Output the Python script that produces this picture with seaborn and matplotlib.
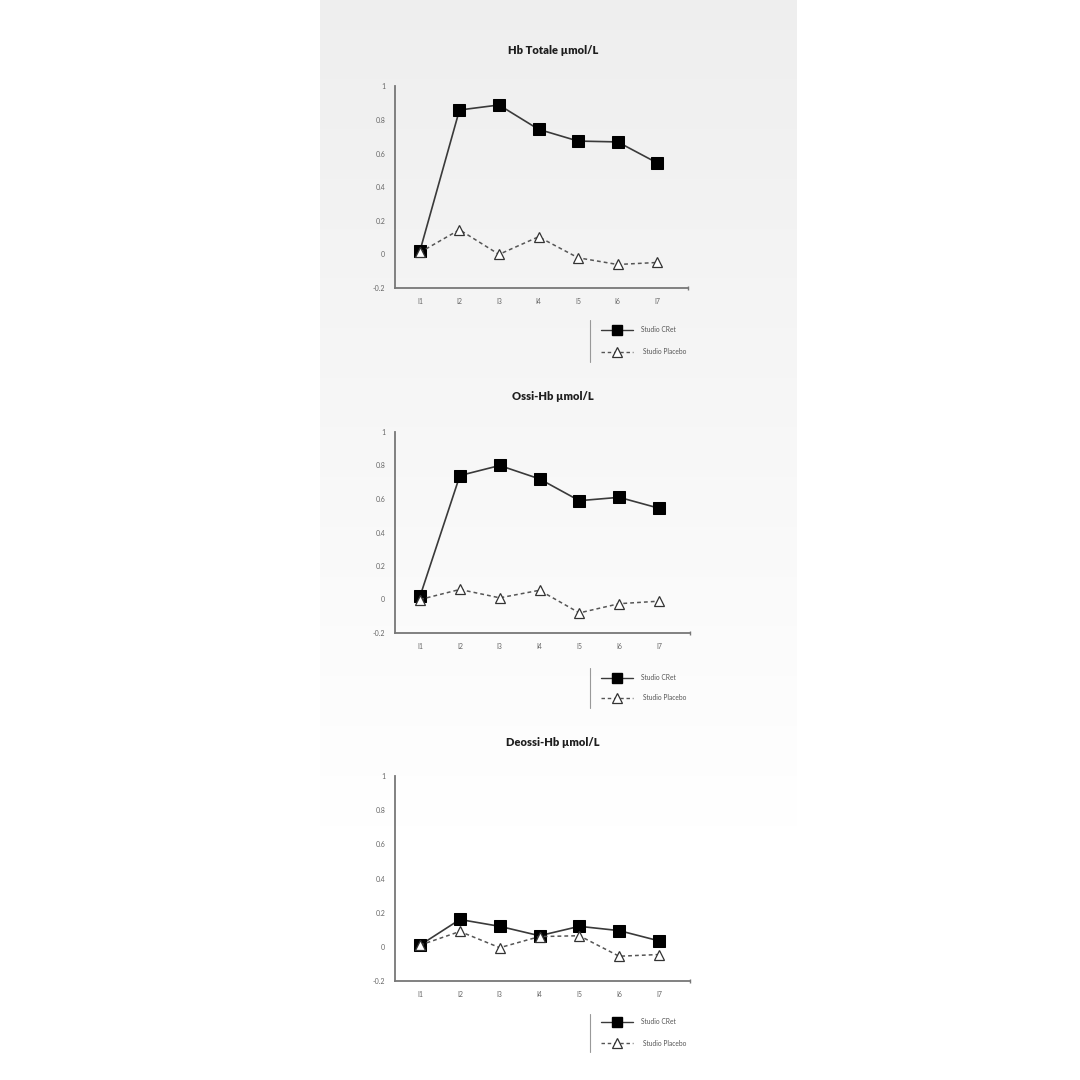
import numpy as np
import pandas as pd
import matplotlib
matplotlib.use("Agg")
import matplotlib.pyplot as plt
from matplotlib.lines import Line2D
import seaborn as sns

sns.set_theme(style="white")
plt.rcParams['font.family'] = ['Lato', 'DejaVu Sans']

timepoints = ["I1", "I2", "I3", "I4", "I5", "I6", "I7"]
titles = ["Hb Totale µmol/L", "Ossi-Hb µmol/L", "Deossi-Hb µmol/L"]
series_names = ["Studio CRet", "Studio Placebo"]
yticks = [-0.2, 0, 0.2, 0.4, 0.6, 0.8, 1]
ytick_labels = ["-0.2", "0", "0.2", "0.4", "0.6", "0.8", "1"]

hb_tot_cret = [0.02, 0.86, 0.89, 0.745, 0.675, 0.67, 0.545]
hb_tot_placebo = [0.012, 0.147, 0.0, 0.105, -0.02, -0.06, -0.048]
ossi_cret = [0.02, 0.74, 0.80, 0.72, 0.59, 0.61, 0.545]
ossi_placebo = [0.0, 0.06, 0.01, 0.055, -0.08, -0.025, -0.01]
deossi_cret = [0.01, 0.16, 0.12, 0.065, 0.12, 0.095, 0.035]
deossi_placebo = [0.01, 0.09, -0.005, 0.06, 0.065, -0.055, -0.045]

datasets = [(hb_tot_cret, hb_tot_placebo), (ossi_cret, ossi_placebo), (deossi_cret, deossi_placebo)]

W = H = 1080
fig = plt.figure(figsize=(10.8, 10.8), dpi=100)
fig.patch.set_facecolor("white")

# background panel with soft gradient
bg = fig.add_axes([320 / W, 0, (797 - 320) / W, 1])
g = np.clip(np.linspace(0.935, 1.02, 512), 0, 1)
rgb = np.repeat(g.reshape(-1, 1, 1), 3, axis=2)
rgb = np.repeat(rgb, 2, axis=1)
bg.imshow(rgb, aspect="auto", extent=[0, 1, 0, 1], origin="upper", interpolation="bilinear")
bg.set_axis_off()
bg.set_zorder(-5)

# layout (pixel coords, top-origin)
layouts = [
    dict(title_y=50, y1=86.5, ybot=288, right=688, leg_top=320, leg_bot=362, leg1=330, leg2=352),
    dict(title_y=396, y1=432, ybot=633, right=690, leg_top=668, leg_bot=708, leg1=678, leg2=698),
    dict(title_y=742, y1=776, ybot=981, right=690, leg_top=1014, leg_bot=1052, leg1=1022, leg2=1043),
]

axis_col = "#777777"
x_pos = np.arange(len(timepoints))
for (cret, plac), title, lay in zip(datasets, titles, layouts):
    left = 395
    ax = fig.add_axes([left / W, 1 - lay["ybot"] / H, (lay["right"] - left) / W,
                       (lay["ybot"] - lay["y1"]) / H])
    ax.set_facecolor("none")
    df = pd.DataFrame({"t": np.concatenate([x_pos, x_pos]),
                       "v": cret + plac,
                       "s": [series_names[0]] * 7 + [series_names[1]] * 7})
    sns.lineplot(data=df[df.s == series_names[0]], x="t", y="v", ax=ax, color="#3a3a3a",
                 lw=1.2, marker="s", markersize=8, markerfacecolor="black",
                 markeredgecolor="black", zorder=3, legend=False)
    sns.lineplot(data=df[df.s == series_names[1]], x="t", y="v", ax=ax, color="#555555",
                 lw=1.1, linestyle=(0, (2.5, 2)), marker="^", markersize=7.5,
                 markerfacecolor="white", markeredgecolor="#333333", markeredgewidth=0.9,
                 zorder=4, legend=False)
    ax.set_xlim(-0.63, 6.78)
    ax.set_ylim(-0.2, 1.0)
    ax.set_xticks(x_pos)
    ax.set_xticklabels(timepoints)
    ax.set_yticks(yticks)
    ax.set_yticklabels(ytick_labels)
    ax.set_xlabel("")
    ax.set_ylabel("")
    for sp in ["top", "right"]:
        ax.spines[sp].set_visible(False)
    for sp in ["left", "bottom"]:
        ax.spines[sp].set_color(axis_col)
        ax.spines[sp].set_linewidth(1.3)
    ax.tick_params(axis="y", direction="in", length=4, width=1, color=axis_col,
                   labelsize=5, labelcolor="#666666", pad=7)
    ax.tick_params(axis="x", length=0, labelsize=5, labelcolor="#666666", pad=7)
    ax.plot([1], [0], transform=ax.transAxes, marker="|", color=axis_col, ms=3, clip_on=False)

    fig.text(553 / W, 1 - lay["title_y"] / H, title, ha="center", va="center",
             fontsize=8, fontweight="heavy", color="#1e1e1e")

    # legend
    fig.add_artist(Line2D([590 / W, 590 / W], [1 - lay["leg_top"] / H, 1 - lay["leg_bot"] / H],
                          color="#999999", lw=0.8))
    for yy, name, kw in [
        (lay["leg1"], series_names[0], dict(color="#3a3a3a", ls="-", lw=1.0)),
        (lay["leg2"], series_names[1], dict(color="#555555", ls=(0, (2.5, 2)), lw=1.0)),
    ]:
        fy = 1 - yy / H
        fig.add_artist(Line2D([601 / W, 633 / W], [fy, fy], **kw))
    fig.add_artist(Line2D([617 / W], [1 - lay["leg1"] / H], marker="s", ms=6.5,
                          color="black", ls="none"))
    fig.add_artist(Line2D([617 / W], [1 - lay["leg2"] / H], marker="^", ms=6.5,
                          markerfacecolor="white", markeredgecolor="#333333",
                          markeredgewidth=0.9, ls="none"))
    fig.text(641 / W, 1 - lay["leg1"] / H, series_names[0], ha="left", va="center",
             fontsize=4.8, color="#555555")
    fig.text(643 / W, 1 - lay["leg2"] / H, series_names[1], ha="left", va="center",
             fontsize=4.8, color="#555555")

fig.savefig("out.png", dpi=100, facecolor="white")
